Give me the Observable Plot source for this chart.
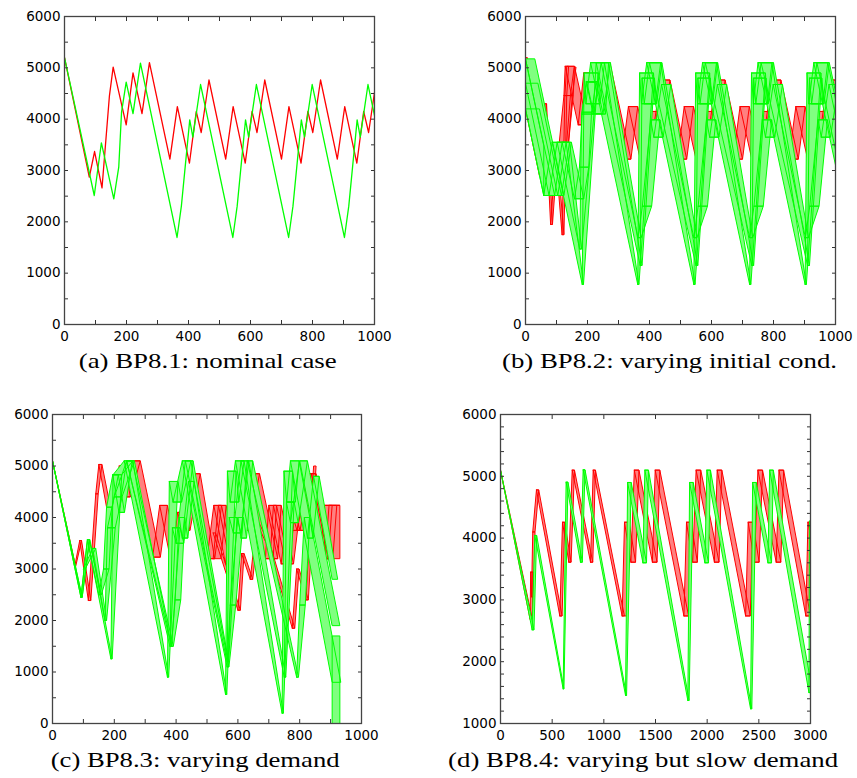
<!DOCTYPE html>
<html><head><meta charset="utf-8">
<script src="https://cdn.jsdelivr.net/npm/d3@7"></script>
<script src="https://cdn.jsdelivr.net/npm/@observablehq/plot@0.6"></script>
<style>
html,body{margin:0;padding:0;background:#fff;overflow:hidden;}
#root{position:relative;width:857px;height:778px;}
.panel{position:absolute;}
.cap{position:absolute;font-family:"Liberation Serif","Times New Roman",serif;font-size:22px;line-height:22px;white-space:nowrap;color:#000;transform-origin:50% 50%;}
</style></head><body><div id="root"></div>
<script>
// ---------- (a) nominal case: single trajectories ----------
const aRed = [[0,5200],[80,2870],[97,3370],[121,2660],[145,4460],[157,5015],[199,3890],[221,4903],[250,4108],[274,5100],[340,3221],[364,4245],[403,3143],[425,4150],[441,3740],[466,4763],[520,3221],[544,4245],[583,3143],[605,4150],[621,3740],[646,4763],[700,3221],[724,4245],[763,3143],[785,4150],[801,3740],[826,4763],[880,3221],[904,4245],[943,3143],[965,4150],[981,3740],[1000,4520]];
const aGreen = [[0,5200],[96,2513],[119,3540],[159,2449],[175,3065],[184,4136],[199,4720],[221,4108],[245,5091],[363,1695],[377,2305],[404,3987],[414,3649],[439,4675],[543,1695],[557,2305],[584,3987],[594,3649],[619,4675],[723,1695],[737,2305],[764,3987],[774,3649],[799,4675],[903,1695],[917,2305],[944,3987],[954,3649],[979,4675],[1000,4072]];

// ---------- (b) varying initial condition ----------
// band = polyline [x, y, (optional) horizontal width at that vertex] + default width dx (data units)
const bRedLo = {dx: 6, dy: 0, pts: [[0,4200],[45,2900],[62,4300],[81,1950],[97,3300],[118,1750],[127,4460],[133,5030]]};
const bRedHi = {dx: 6, dy: 0, pts: [[0,5200],[80,2870],[97,3370],[121,2660],[145,4460],[157,5015]]};
const bRedMain = {dx: 30, dy: 0, pts: [[95,2700],[124,4460],[128,5030],[170,3890],[188,4900],[215,4108],[242,5100],[310,3221],[332,4245],[373,3143],[395,4150],[411,3740],[436,4763],[490,3221],[512,4245],[553,3143],[575,4150],[591,3740],[614,4763],[670,3221],[692,4245],[733,3143],[755,4150],[771,3740],[794,4763],[850,3221],[872,4245],[913,3143],[935,4150],[951,3740],[974,4763],[1030,3221]]};
const bGreenInit = {dx: 0, dy: -975, pts: [[0,5175],[59,3480]]};
const bGreenLo = {dx: 45, dy: 0, pts: [[0,4200],[59,2513],[86,3550],[183,780,4],[189,4900],[195,4300],[210,5100],[362,780,4],[368,4900],[374,4300],[391,5100],[543,780,4],[549,4900],[555,4300],[571,5100],[723,780,4],[729,4900],[735,4300],[750,5100],[902,780,4],[908,4900],[914,4300],[930,5100],[1030,2250]]};
const bGreenMid = {dx: 40, dy: 0, pts: [[0,4700],[76,2513],[102,3550],[175,1470,6],[181,4100],[196,4730],[218,4100],[228,5100],[370,1150,6],[376,4800],[383,4300],[400,5100],[550,1150,6],[556,4800],[563,4300],[580,5100],[730,1150,6],[736,4800],[743,4300],[760,5100],[910,1150,6],[916,4800],[923,4300],[940,5100],[1030,2550]]};
const bGreenHi = {dx: 30, dy: 0, pts: [[0,5175],[94,2513],[118,3550],[158,2449],[174,3065],[183,4136],[198,4720],[220,4108],[244,5100],[363,1691,10],[377,2305],[404,3987],[414,3649],[439,4675],[543,1691,10],[557,2305],[584,3987],[594,3649],[619,4675],[723,1691,10],[737,2305],[764,3987],[774,3649],[799,4675],[903,1691,10],[917,2305],[944,3987],[954,3649],[979,4675],[1030,3200]]};

// ---------- (c) varying demand ----------
const cRedMain = {dx: 25, dy: 0, pts: [[0,5100,0],[72,3050,3],[88,3553,6],[116,2388,8],[140,4460,8],[150,5030,10],[190,3700,14],[216,5000,18],[232,4400,20],[259,5100],[324,3230],[347,4235],[385,3100],[405,4100],[420,3750],[453,4850],[500,3200],[522,4235],[560,3100],[580,4100],[596,3750],[630,4850],[689,3200],[700,4235],[740,3100],[760,4100],[776,3750],[813,4850],[867,3200],[880,4235],[905,4235]]};
const cRedLate = {dx: 25, dy: 0, pts: [[520,3200],[537,4235],[575,3100],[595,4100],[611,3750],[645,4850],[704,3200],[715,4235],[755,3100],[775,4100],[791,3750],[828,4850],[882,3200],[895,4235],[905,4235]]};
const cRedLo = {dx: 8, dy: 0, pts: [[520,3700],[600,2200],[612,3300],[640,2800],[660,3900],[700,3400],[776,1850],[790,3000],[820,2400],[845,5000]]};
const cRedEnd = {dx: 50, dy: 0, pts: [[880,3200],[880,4235]]};
const cGreenLo = {dx: 28, dy: 0, pts: [[0,5100,0],[92,2450,4],[113,3570,8],[189,1256,4],[196,4830],[232,5100],[372,900,4],[378,4700],[390,4300],[420,5100],[560,563,4],[566,4900],[575,4300],[592,5100],[743,200,4],[749,4900],[758,4300],[770,5100],[905,800]]};
const cGreenMid = {dx: 25, dy: 0, pts: [[100,3000,6],[130,3400,10],[170,2000,5],[178,3800],[200,4400],[240,5100],[380,1500,5],[388,3800],[400,3500],[430,5100],[565,1200,5],[572,4000],[585,3700],[610,5100],[750,900,5],[757,4300],[770,3900],[800,5100],[905,1900]]};
const cGreenHi = {dx: 18, dy: 0, pts: [[0,5100,0],[92,2450,4],[113,3570,6],[150,2500,8],[165,3000],[175,4200],[195,4830],[215,4100],[240,5100],[385,1500,6],[397,2400],[410,4000],[420,3600],[440,4700],[565,1100,6],[575,2300],[600,4000],[610,3600],[630,5100],[790,900,6],[800,2300],[815,4000],[825,3600],[845,4800],[905,2800]]};
const cGreenEnd = {dx: 25, dy: 0, pts: [[905,0],[905,1700]]};

// ---------- (d) varying but slow demand ----------
const dRedA = {dx: 22, dy: 0, pts: [[0,5100,0],[286,2690],[292,3450],[300,3050],[312,4100],[348,4780],[574,2740],[600,4257],[661,3610],[694,5100],[871,3610],[897,5100],[1177,2740]]};
const dRedB = {dx: 45, dy: 0, pts: [[1177,2740],[1200,4257],[1262,3610],[1295,5100],[1470,3610],[1497,5100],[1775,2740],[1800,4257],[1860,3610],[1893,5100],[2070,3610],[2097,5100],[2372,2740],[2397,4257],[2458,3610],[2491,5100],[2668,3610],[2695,5100],[2955,2740],[2975,4257],[3050,3600]]};
const dGreenA = {dx: 18, dy: 0, pts: [[0,5100,0],[306,2516],[332,4043],[606,1561,8],[635,4905],[774,3610],[800,5105],[1210,1453,10]]};
const dGreenB = {dx: 35, dy: 0, pts: [[1210,1453,10],[1230,4900],[1378,3600],[1397,5100],[1813,1372,12],[1830,4900],[1978,3600],[1997,5100],[2420,1238,12],[2440,4900],[2588,3600],[2605,5100],[2985,1500],[2990,4280]]};

// ---------- axis ticks ----------
const ticks1000 = [0,200,400,600,800,1000];
const minor1000 = d3.range(0, 1001, 100);
const yMajor6 = [0,1000,2000,3000,4000,5000,6000];
const yMinor6 = d3.range(0, 6001, 500);
const ticks3000 = [0,500,1000,1500,2000,2500,3000];
const yMajorD = [1000,2000,3000,4000,5000,6000];
const yMinorD = d3.range(1000, 6001, 200);

const RED = "#ff0000", GREEN = "#00ff00", RED_FILL = "#ff8080", GREEN_FILL = "#80ff80";

function quadRows(bands) {
  const rows = [];
  bands.forEach((b, bi) => {
    const p = b.pts;
    const w = (q) => (q[2] ?? b.dx);
    for (let i = 0; i < p.length - 1; i++) {
      const id = bi + "-" + i;
      const a = p[i], c = p[i + 1];
      const poly = [[a[0], a[1]], [c[0], c[1]], [c[0] + w(c), c[1] + b.dy], [a[0] + w(a), a[1] + b.dy], [a[0], a[1]]];
      for (const q of poly) rows.push({x: q[0], y: q[1], id});
    }
  });
  return rows;
}
function lineRows(pts) { return pts.map(([x, y]) => ({x, y})); }

function bandMarks(bands, fill, stroke) {
  const rows = quadRows(bands);
  return [
    Plot.line(rows, {x: "x", y: "y", z: "id", fill, stroke: "none", clip: true, curve: "linear"}),
    Plot.line(rows, {x: "x", y: "y", z: "id", fill: "none", stroke, strokeWidth: 1, clip: true, curve: "linear", strokeLinejoin: "miter"})
  ];
}

function makePanel(cfg) {
  const mL = 50, mT = 15, mB = 30, T = 4;
  const width = mL + cfg.fw + cfg.mR, height = mT + cfg.fh + mB;
  const none = () => "";
  const chart = Plot.plot({
    width, height, marginLeft: mL, marginRight: cfg.mR, marginTop: mT, marginBottom: mB,
    style: {fontFamily: "DejaVu Sans, sans-serif", fontSize: "13.5px", color: "#000", background: "transparent"},
    x: {domain: cfg.xDomain, label: null},
    y: {domain: cfg.yDomain, label: null},
    marks: [
      ...cfg.marks,
      Plot.axisX({ticks: cfg.xMinor, anchor: "bottom", tickSize: T, dy: -T, tickFormat: none, label: null, stroke: "#333"}),
      Plot.axisX({ticks: cfg.xMinor, anchor: "top", tickSize: T, dy: T, tickFormat: none, label: null, stroke: "#333"}),
      Plot.axisY({ticks: cfg.yMinor, anchor: "left", tickSize: T, dx: T, tickFormat: none, label: null, stroke: "#333"}),
      Plot.axisY({ticks: cfg.yMinor, anchor: "right", tickSize: T, dx: -T, tickFormat: none, label: null, stroke: "#333"}),
      Plot.axisX({ticks: cfg.xMajor, anchor: "bottom", tickSize: 0, tickPadding: 7, tickFormat: d3.format("d"), label: null}),
      Plot.axisY({ticks: cfg.yMajor, anchor: "left", tickSize: 0, tickPadding: 4, tickFormat: d3.format("d"), label: null}),
      Plot.frame({stroke: "#444", strokeWidth: 1.3})
    ]
  });
  chart.classList.add("panel");
  chart.style.left = (cfg.fx - mL) + "px";
  chart.style.top = (cfg.fy - mT) + "px";
  const root = document.getElementById("root");
  root.appendChild(chart);
  const cap = document.createElement("div");
  cap.className = "cap";
  cap.textContent = cfg.caption;
  root.appendChild(cap);
  const w = cap.getBoundingClientRect().width;
  cap.style.left = (cfg.capX - w / 2) + "px";
  cap.style.top = (cfg.capBase - 18) + "px";
  cap.style.transform = `scaleX(${cfg.capW / w})`;
}

makePanel({
  fx: 64, fy: 16, fw: 310, fh: 308, mR: 25,
  xDomain: [0, 1000], yDomain: [0, 6000], xMajor: ticks1000, xMinor: minor1000, yMajor: yMajor6, yMinor: yMinor6,
  caption: "(a) BP8.1: nominal case", capX: 208, capBase: 368, capW: 258,
  marks: [
    Plot.line(lineRows(aRed), {x: "x", y: "y", stroke: RED, strokeWidth: 1.3, clip: true}),
    Plot.line(lineRows(aGreen), {x: "x", y: "y", stroke: GREEN, strokeWidth: 1.3, clip: true})
  ]
});

makePanel({
  fx: 525, fy: 16, fw: 310, fh: 308, mR: 20,
  xDomain: [0, 1000], yDomain: [0, 6000], xMajor: ticks1000, xMinor: minor1000, yMajor: yMajor6, yMinor: yMinor6,
  caption: "(b) BP8.2: varying initial cond.", capX: 669, capBase: 368, capW: 335,
  marks: [
    ...bandMarks([bRedLo, bRedHi, bRedMain], RED_FILL, RED),
    ...bandMarks([bGreenInit, bGreenLo, bGreenMid, bGreenHi], GREEN_FILL, GREEN)
  ]
});

makePanel({
  fx: 52, fy: 414, fw: 309, fh: 309, mR: 25,
  xDomain: [0, 1000], yDomain: [0, 6000], xMajor: ticks1000, xMinor: minor1000, yMajor: yMajor6, yMinor: yMinor6,
  caption: "(c) BP8.3: varying demand", capX: 195, capBase: 767, capW: 289,
  marks: [
    ...bandMarks([cRedMain, cRedLate, cRedLo, cRedEnd], RED_FILL, RED),
    ...bandMarks([cGreenLo, cGreenMid, cGreenHi, cGreenEnd], GREEN_FILL, GREEN)
  ]
});

makePanel({
  fx: 500, fy: 414, fw: 310, fh: 309, mR: 25,
  xDomain: [0, 3000], yDomain: [1000, 6000], xMajor: ticks3000, xMinor: ticks3000, yMajor: yMajorD, yMinor: yMinorD,
  caption: "(d) BP8.4: varying but slow demand", capX: 643, capBase: 767, capW: 390,
  marks: [
    ...bandMarks([dRedA, dRedB], RED_FILL, RED),
    ...bandMarks([dGreenA, dGreenB], GREEN_FILL, GREEN)
  ]
});
</script>
</body></html>
